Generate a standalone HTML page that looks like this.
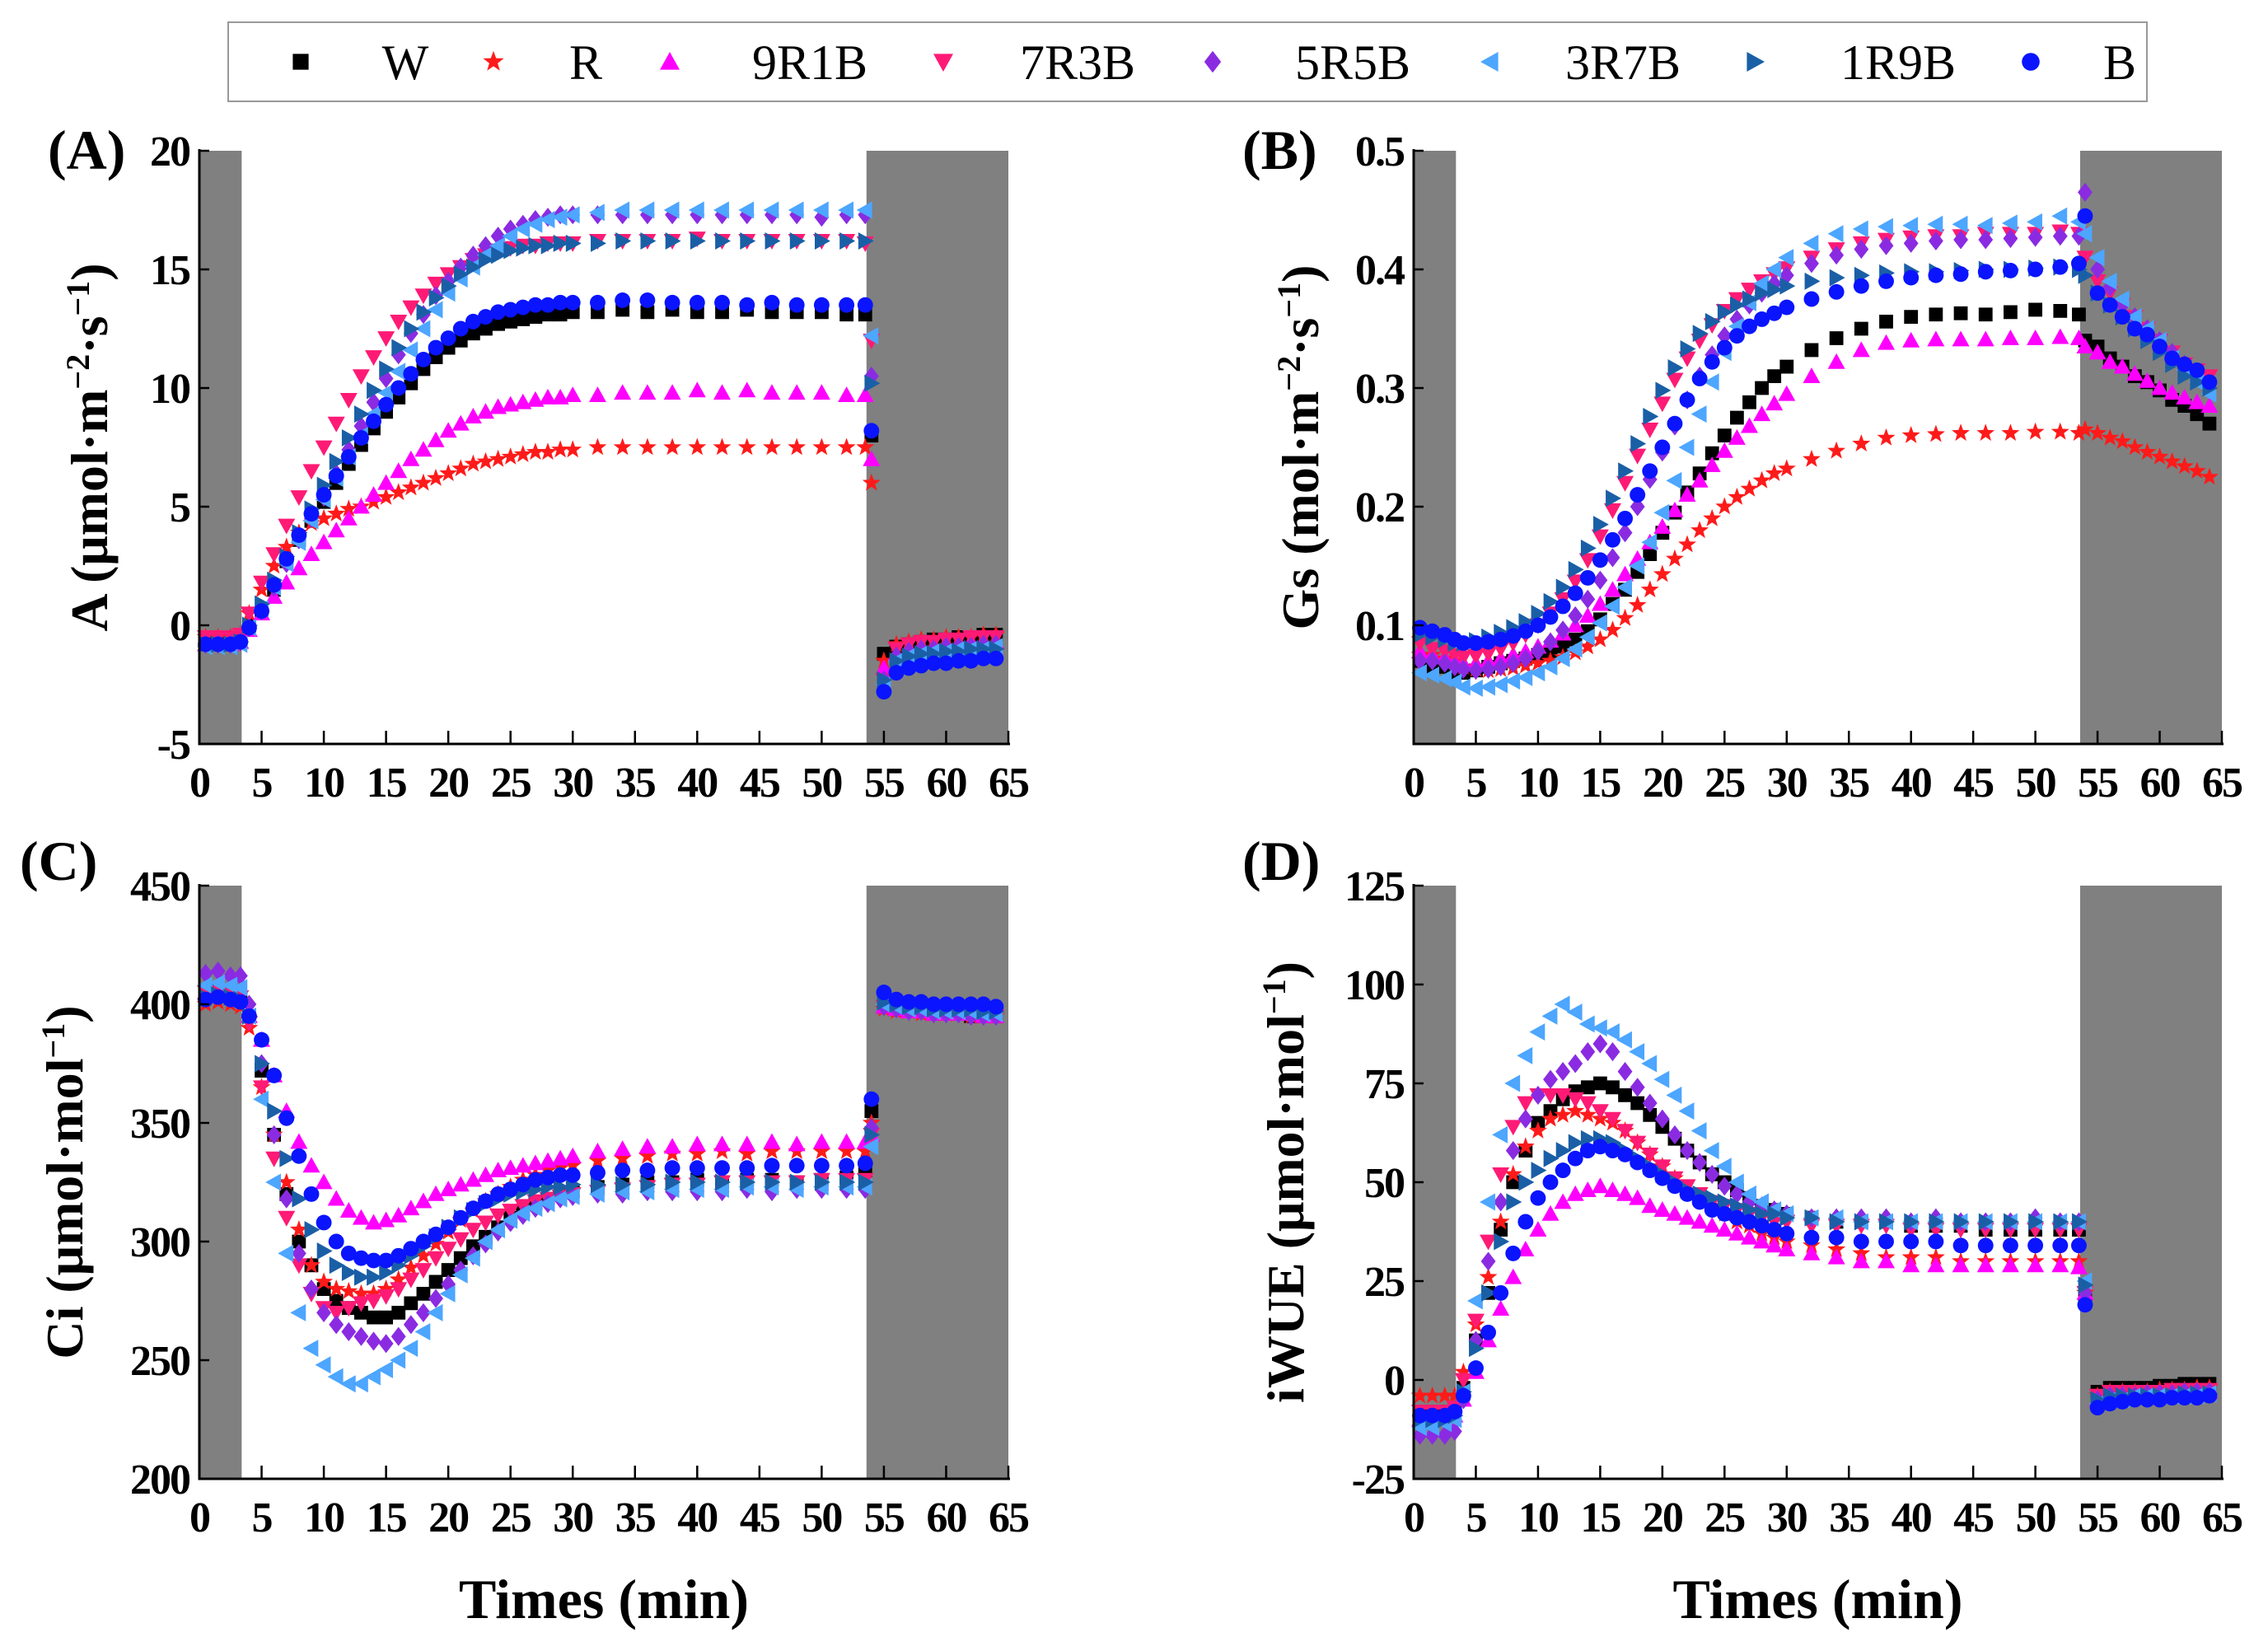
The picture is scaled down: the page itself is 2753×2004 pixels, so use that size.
<!DOCTYPE html>
<html><head><meta charset="utf-8"><style>
html,body{margin:0;padding:0;background:#fff;}
svg{display:block;font-family:"Liberation Serif",serif;}
</style></head><body>
<svg id="fig" width="2753" height="2004" viewBox="0 0 2753 2004" xmlns="http://www.w3.org/2000/svg">
<g>
<rect x="277" y="27" width="2329" height="96" fill="#fff" stroke="#999" stroke-width="2"/>
<g id="legendItems"></g>
</g>
<g id="plots"></g>
</svg>
<script>
// shared time axis (min)
const times = [0.5,1.5,2.5,3.3,4,5,6,7,8,9,10,11,12,13,14,15,16,17,18,19,20,21,22,23,24,25,26,27,28,29,30,32,34,36,38,40,42,44,46,48,50,52,53.5,54,55,56,57,58,59,60,61,62,63,64];
const seriesNames = ["W","R","9R1B","7R3B","5R5B","3R7B","1R9B","B"];
const xTicks = [0,5,10,15,20,25,30,35,40,45,50,55,60,65];

// Panel A: net photosynthetic rate
const aW    = [-0.7,-0.7,-0.7,-0.6,0,0.5,1.5,2.7,3.6,4.4,5.2,6,6.8,7.6,8.3,9,9.6,10.2,10.8,11.3,11.7,12,12.3,12.5,12.7,12.8,12.9,13,13.1,13.1,13.2,13.2,13.3,13.2,13.3,13.2,13.2,13.3,13.2,13.2,13.2,13.1,13.1,8,-1.2,-0.9,-0.8,-0.7,-0.6,-0.6,-0.5,-0.5,-0.4,-0.4];
const aR    = [-0.5,-0.5,-0.5,-0.4,0.5,1.5,2.5,3.3,3.9,4.3,4.5,4.7,4.9,5,5.2,5.4,5.6,5.8,6,6.2,6.4,6.6,6.8,6.9,7,7.1,7.2,7.3,7.3,7.4,7.4,7.5,7.5,7.5,7.5,7.5,7.5,7.5,7.5,7.5,7.5,7.5,7.5,6,-1.5,-0.8,-0.7,-0.6,-0.6,-0.5,-0.5,-0.5,-0.4,-0.4];
const a9R1B = [-0.8,-0.8,-0.8,-0.7,-0.2,0.5,1.2,1.8,2.4,3,3.5,4,4.5,5,5.5,6,6.5,7,7.4,7.8,8.2,8.5,8.8,9,9.2,9.3,9.4,9.5,9.6,9.6,9.7,9.7,9.8,9.8,9.8,9.9,9.8,9.9,9.8,9.8,9.8,9.7,9.7,7,-1.8,-1.2,-1.0,-0.9,-0.9,-0.8,-0.8,-0.7,-0.7,-0.7];
const a7R3B = [-0.5,-0.5,-0.5,-0.4,0.5,1.8,3,4.2,5.4,6.5,7.5,8.5,9.5,10.5,11.3,12.1,12.8,13.4,13.9,14.4,14.8,15.1,15.4,15.6,15.8,15.9,16,16,16.1,16.1,16.1,16.2,16.2,16.2,16.2,16.3,16.2,16.2,16.2,16.2,16.2,16.2,16.1,12,-2.3,-1,-0.8,-0.7,-0.7,-0.6,-0.6,-0.5,-0.5,-0.5];
const a5R5B = [-0.8,-0.8,-0.8,-0.7,-0.1,0.6,1.6,2.6,3.6,4.5,5.4,6.4,7.4,8.4,9.4,10.4,11.4,12.3,13.1,13.9,14.5,15.1,15.6,16,16.4,16.7,16.9,17.1,17.2,17.3,17.3,17.3,17.3,17.3,17.3,17.3,17.3,17.3,17.3,17.3,17.2,17.3,17.3,10.5,-2.3,-1.3,-1.1,-1.0,-1.0,-0.9,-0.9,-0.9,-0.8,-0.8];
const a3R7B = [-0.9,-0.9,-0.9,-0.8,-0.1,0.7,1.6,2.6,3.5,4.4,5.3,6.2,7.1,8,8.9,9.8,10.7,11.6,12.5,13.3,14,14.6,15.1,15.6,16,16.4,16.7,16.9,17.1,17.2,17.3,17.4,17.5,17.5,17.5,17.5,17.5,17.5,17.5,17.5,17.5,17.5,17.5,12.2,-2.5,-1.5,-1.3,-1.2,-1.1,-1.1,-1,-1,-1,-0.9];
const a1R9B = [-0.8,-0.8,-0.8,-0.7,0,0.9,1.9,2.9,3.9,4.9,5.9,6.9,7.9,8.9,9.9,10.8,11.7,12.5,13.2,13.8,14.3,14.8,15.1,15.4,15.6,15.8,15.9,16,16,16.1,16.1,16.1,16.2,16.2,16.2,16.2,16.2,16.2,16.2,16.2,16.2,16.2,16.2,10.2,-2.3,-1.5,-1.3,-1.2,-1.2,-1.1,-1.1,-1.0,-1.0,-1.0];
const aB    = [-0.8,-0.8,-0.8,-0.7,-0.1,0.6,1.7,2.8,3.8,4.7,5.5,6.3,7.1,7.9,8.6,9.3,10,10.6,11.2,11.7,12.1,12.5,12.8,13,13.2,13.3,13.4,13.5,13.5,13.6,13.6,13.6,13.7,13.7,13.6,13.6,13.6,13.5,13.6,13.5,13.5,13.5,13.5,8.2,-2.8,-2,-1.8,-1.7,-1.6,-1.6,-1.5,-1.5,-1.4,-1.4];

// Panel B: stomatal conductance
const gW    = [0.07,0.065,0.065,0.06,0.06,0.062,0.065,0.068,0.07,0.072,0.075,0.078,0.082,0.088,0.095,0.105,0.118,0.13,0.145,0.16,0.178,0.195,0.212,0.228,0.245,0.26,0.275,0.288,0.3,0.31,0.318,0.332,0.342,0.35,0.356,0.36,0.362,0.363,0.362,0.364,0.366,0.365,0.362,0.34,0.335,0.325,0.318,0.31,0.305,0.298,0.29,0.285,0.278,0.27];
const gR    = [0.075,0.075,0.072,0.07,0.065,0.063,0.062,0.063,0.064,0.066,0.068,0.07,0.073,0.077,0.082,0.088,0.096,0.106,0.117,0.13,0.143,0.156,0.168,0.18,0.19,0.2,0.208,0.215,0.222,0.228,0.232,0.24,0.247,0.253,0.258,0.26,0.261,0.262,0.262,0.262,0.263,0.263,0.262,0.265,0.262,0.258,0.255,0.25,0.246,0.242,0.238,0.234,0.23,0.225];
const g9R1B = [0.078,0.075,0.073,0.07,0.068,0.068,0.07,0.072,0.075,0.078,0.082,0.087,0.093,0.1,0.108,0.118,0.13,0.143,0.156,0.17,0.183,0.197,0.21,0.222,0.235,0.247,0.258,0.268,0.278,0.287,0.295,0.31,0.322,0.332,0.338,0.34,0.341,0.341,0.341,0.342,0.342,0.343,0.342,0.335,0.33,0.322,0.318,0.312,0.306,0.3,0.296,0.292,0.288,0.285];
const g7R3B = [0.085,0.08,0.078,0.075,0.073,0.074,0.076,0.08,0.085,0.092,0.1,0.11,0.122,0.137,0.155,0.175,0.197,0.22,0.243,0.265,0.287,0.307,0.325,0.34,0.353,0.365,0.375,0.383,0.39,0.396,0.401,0.41,0.417,0.422,0.425,0.427,0.428,0.428,0.43,0.43,0.43,0.432,0.43,0.41,0.39,0.38,0.37,0.36,0.35,0.34,0.33,0.32,0.315,0.31];
const g5R5B = [0.07,0.07,0.068,0.065,0.063,0.062,0.063,0.065,0.068,0.072,0.078,0.086,0.096,0.108,0.122,0.138,0.157,0.178,0.2,0.223,0.246,0.268,0.29,0.31,0.328,0.344,0.358,0.37,0.38,0.388,0.395,0.405,0.412,0.417,0.42,0.422,0.424,0.425,0.425,0.426,0.427,0.428,0.428,0.465,0.4,0.385,0.37,0.36,0.35,0.34,0.33,0.32,0.31,0.3];
const g3R7B = [0.06,0.058,0.055,0.052,0.048,0.047,0.048,0.05,0.053,0.056,0.06,0.065,0.072,0.08,0.09,0.102,0.116,0.132,0.15,0.17,0.195,0.222,0.25,0.278,0.305,0.33,0.352,0.372,0.388,0.4,0.41,0.422,0.43,0.434,0.436,0.437,0.438,0.438,0.437,0.439,0.44,0.445,0.44,0.43,0.41,0.39,0.375,0.36,0.35,0.34,0.325,0.315,0.305,0.295];
const g1R9B = [0.092,0.09,0.088,0.085,0.085,0.087,0.09,0.094,0.098,0.103,0.11,0.12,0.132,0.147,0.165,0.185,0.207,0.23,0.253,0.276,0.298,0.317,0.333,0.346,0.356,0.364,0.37,0.375,0.38,0.383,0.386,0.39,0.393,0.395,0.397,0.398,0.398,0.399,0.4,0.4,0.401,0.402,0.4,0.395,0.38,0.37,0.36,0.35,0.34,0.33,0.32,0.31,0.305,0.3];
const gB    = [0.098,0.095,0.092,0.088,0.085,0.085,0.086,0.088,0.091,0.095,0.1,0.107,0.116,0.127,0.14,0.155,0.172,0.19,0.21,0.23,0.25,0.27,0.29,0.308,0.322,0.334,0.344,0.352,0.358,0.363,0.368,0.375,0.381,0.386,0.39,0.393,0.395,0.396,0.398,0.399,0.4,0.402,0.405,0.445,0.38,0.37,0.36,0.35,0.345,0.335,0.325,0.32,0.315,0.305];

// Panel C: intercellular CO2
const cW    = [405,406,404,402,395,372,345,320,300,290,280,275,272,270,268,268,270,274,278,283,288,293,298,302,306,310,313,316,318,320,321,323,324,325,325,326,325,326,326,325,326,327,330,355,399,398,397,397,396,396,396,395,395,395];
const cR    = [400,401,400,399,390,365,345,325,305,290,283,280,279,278,278,280,284,289,294,299,304,309,313,317,320,323,326,328,330,331,332,334,335,336,337,337,338,337,338,338,338,338,338,350,398,397,397,396,396,396,396,395,395,395];
const c9R1B = [405,406,404,403,395,385,370,355,342,332,325,318,313,310,308,309,311,314,317,320,322,324,326,328,330,331,332,333,334,335,336,338,339,340,340,341,341,341,342,341,342,342,342,345,399,398,397,397,396,396,396,396,395,395];
const c7R3B = [405,405,404,403,392,365,335,310,290,278,272,270,272,274,275,277,280,284,288,293,297,301,305,308,311,313,315,317,318,319,320,321,322,323,324,324,325,325,325,325,326,326,326,345,399,398,397,397,396,396,396,395,395,395];
const c5R5B = [413,414,412,412,400,375,345,318,295,280,270,265,262,260,258,257,260,265,270,276,282,288,294,299,304,308,311,314,316,318,319,320,320,321,321,321,321,322,321,322,322,322,322,348,399,398,397,397,396,396,396,395,395,395];
const c3R7B = [408,409,408,407,395,360,325,295,270,255,248,243,240,240,243,246,250,255,262,270,278,286,293,300,305,309,312,314,316,318,319,320,321,321,322,322,322,323,323,322,323,323,323,340,400,399,398,398,397,397,397,397,396,396];
const c1R9B = [403,404,403,402,395,375,355,335,318,305,296,290,287,285,285,287,290,294,298,302,306,310,313,316,318,320,321,322,323,323,324,324,324,324,325,325,325,325,325,325,325,325,325,345,401,400,399,399,398,398,398,398,397,397];
const cB    = [402,403,402,401,395,385,370,352,336,320,308,300,295,293,292,292,294,297,300,303,306,310,314,317,320,322,324,326,327,328,328,329,330,330,331,331,331,331,332,332,332,332,333,360,405,402,401,401,400,400,400,400,400,399];

// Panel D: intrinsic water use efficiency
const dW    = [-8,-8,-9,-7,-2,10,22,38,50,58,65,68,71,73,74,75,74,72,70,67,64,61,58,55,52,50,48,46,44,43,42,41,40,40,40,39,39,39,38,38,38,38,38,20,-3,-2,-2,-2,-2,-1.5,-1.5,-1,-1,-1];
const dR    = [-4,-4,-4,-4,2,14,26,40,52,59,63,66,67,68,67,66,65,63,60,57,54,51,48,46,44,42,40,39,37,36,35,34,33,32,31,31,31,30,30,30,30,30,30,22,-4,-3,-3,-3,-3,-2.5,-2.5,-2.5,-2,-2];
const d9R1B = [-10,-10,-10,-9,-5,2,10,18,26,33,38,42,45,47,48,49,48,47,46,44,43,42,41,40,39,38,37,36,35,34,33,32,31,30,30,29,29,29,29,29,29,29,28.5,22,-5,-4,-4,-4,-4,-3.5,-3.5,-3.5,-3,-3];
const d7R3B = [-8,-8,-8,-7,0,15,35,52,64,70,72,72,72,71,70,68,66,63,60,57,54,51,49,47,45,44,43,42,41,40,40,39,39,39,39,38,38,38,38,38,38,38,38,22,-4,-3,-3,-3,-3,-3,-2.5,-2.5,-2.5,-2.5];
const d5R5B = [-14,-14,-14,-13,-5,10,30,45,58,66,72,76,78,80,83,85,83,78,74,70,66,62,58,55,52,49,47,45,44,43,42,41,41,41,41,40,41,40,40,40,41,40,40,22,-5,-4,-4,-4,-3.5,-3.5,-3.5,-3,-3,-3];
const d3R7B = [-12,-12,-11,-10,-3,20,45,62,75,82,88,92,95,93,90,89,88,86,83,80,76,72,68,63,58,54,50,47,45,43,42,41,41,40,40,40,40,40,40,40,40,40,40,25,-6,-5,-5,-4,-4,-4,-4,-4,-4,-3.5];
const d1R9B = [-10,-10,-10,-9,-3,8,22,35,45,50,53,56,58,60,61,61,60,58,56,54,52,50,48,47,46,45,44,43,42,42,41,41,40,40,40,40,40,40,40,40,40,40,40,24,-5,-4,-4,-4,-4,-4,-4,-3.5,-3.5,-3.5];
const dB    = [-9,-9,-9,-8,-4,3,12,22,32,40,46,50,53,56,58,59,58,57,55,53,51,49,47,45,43,42,41,40,39,38,37,36,36,35,35,35,35,34,34,34,34,34,34,19,-7,-6,-5.5,-5,-5,-5,-4.5,-4.5,-4.5,-4];

const panels = [
  {id:"a", label:"(A)", L:242, R:1224, T:183, B:903, ymin:-5, ymax:20, yTicks:[-5,0,5,10,15,20], yFmt:v=>String(v),
   title:["A (μmol·m","−2","·s","−1",")"], tx:130, lx:58, ly:205, data:[aW,aR,a9R1B,a7R3B,a5R5B,a3R7B,a1R9B,aB], xlab:false},
  {id:"gs", label:"(B)", L:1716, R:2697, T:183, B:903, ymin:0, ymax:0.5, yTicks:[0.1,0.2,0.3,0.4,0.5], yFmt:v=>v.toFixed(1),
   title:["Gs (mol·m","−2","·s","−1",")"], tx:1600, lx:1508, ly:205, data:[gW,gR,g9R1B,g7R3B,g5R5B,g3R7B,g1R9B,gB], xlab:false},
  {id:"ci", label:"(C)", L:242, R:1224, T:1075, B:1795, ymin:200, ymax:450, yTicks:[200,250,300,350,400,450], yFmt:v=>String(v),
   title:["Ci (μmol·mol","−1",")"], tx:100, lx:24, ly:1068, data:[cW,cR,c9R1B,c7R3B,c5R5B,c3R7B,c1R9B,cB], xlab:true},
  {id:"iwue", label:"(D)", L:1716, R:2697, T:1075, B:1795, ymin:-25, ymax:125, yTicks:[-25,0,25,50,75,100,125], yFmt:v=>String(v),
   title:["iWUE (μmol·mol","−1",")"], tx:1582, lx:1508, ly:1068, data:[dW,dR,d9R1B,d7R3B,d5R5B,d3R7B,d1R9B,dB], xlab:true}
];
const colors = ["#000000","#ff1a1a","#ff00ff","#ff1a75","#8a2be2","#4da6ff","#1a5fa6","#0a14ff"];
const shapes = ["square","star","up","down","diamond","left","right","circle"];
const NS = "http://www.w3.org/2000/svg";
function mk(tag, attrs, parent){const e=document.createElementNS(NS,tag);for(const k in attrs)e.setAttribute(k,attrs[k]);parent.appendChild(e);return e;}
function marker(shape, x, y, s, color, parent){
  let d;
  if(shape==="square") d=`M${x-s*0.8},${y-s*0.8}h${s*1.6}v${s*1.6}h${-s*1.6}z`;
  else if(shape==="up") d=`M${x},${y-s}L${x+s},${y+s*0.8}L${x-s},${y+s*0.8}z`;
  else if(shape==="down") d=`M${x},${y+s}L${x+s},${y-s*0.8}L${x-s},${y-s*0.8}z`;
  else if(shape==="left") d=`M${x-s},${y}L${x+s*0.8},${y-s}L${x+s*0.8},${y+s}z`;
  else if(shape==="right") d=`M${x+s},${y}L${x-s*0.8},${y-s}L${x-s*0.8},${y+s}z`;
  else if(shape==="diamond") d=`M${x},${y-s*1.1}L${x+s*0.85},${y}L${x},${y+s*1.1}L${x-s*0.85},${y}z`;
  else if(shape==="star"){let p=[];for(let i=0;i<10;i++){const r=i%2?s*0.45:s*1.1;const a=-Math.PI/2+i*Math.PI/5;p.push((x+r*Math.cos(a)).toFixed(1)+","+(y+r*Math.sin(a)).toFixed(1));}d="M"+p.join("L")+"z";}
  if(shape==="circle") return mk("circle",{cx:x,cy:y,r:s*0.9,fill:color},parent);
  return mk("path",{d:d,fill:color},parent);
}
const plots=document.getElementById("plots");
panels.forEach(p=>{
  const g=mk("g",{},plots);
  
  
  const xs=t=>p.L+(t/65)*(p.R-p.L);
  const ys=v=>p.B-(v-p.ymin)/(p.ymax-p.ymin)*(p.B-p.T);
  const b1=mk("rect",{x:p.L,y:p.T,width:xs(3.4)-p.L,height:p.B-p.T,fill:"#808080"},g);
  
  
  const b2=mk("rect",{x:xs(53.6),y:p.T,width:p.R-xs(53.6),height:p.B-p.T,fill:"#808080"},g);
  
  
  p.data.forEach((arr,si)=>{
    const sg=mk("g",{},g);
    
    
    arr.forEach((v,i)=>{
      const m=marker(shapes[si],xs(times[i]),ys(v),10.5,colors[si],sg);
      
      
    });
  });
  const ax=mk("path",{d:`M${p.L},${p.T-2}V${p.B}H${p.R+2}`,fill:"none",stroke:"#000","stroke-width":3},g);
  
  
  xTicks.forEach(t=>{
    mk("line",{x1:xs(t),x2:xs(t),y1:p.B,y2:p.B-16,stroke:"#000","stroke-width":2.5},g);
    const tl=mk("text",{x:xs(t),y:p.B+64,"text-anchor":"middle","font-size":52,"font-weight":"bold","letter-spacing":"-2"},g);
    tl.textContent=t;
    
    
  });
  p.yTicks.forEach(v=>{
    mk("line",{x1:p.L,x2:p.L+12,y1:ys(v),y2:ys(v),stroke:"#000","stroke-width":2.5},g);
    const tl=mk("text",{x:p.L-12,y:ys(v)+18,"text-anchor":"end","font-size":52,"font-weight":"bold","letter-spacing":"-2"},g);
    tl.textContent=p.yFmt(v);
    
    
  });
  const cy=(p.T+p.B)/2;
  const yt=mk("text",{x:0,y:0,transform:`translate(${p.tx},${cy}) rotate(-90)`,"text-anchor":"middle","font-size":64,"font-weight":"bold"},g);
  
  
  p.title.forEach((s,i)=>{
    const ts=mk("tspan",{},yt);
    if(i%2===1){ts.setAttribute("baseline-shift","super");ts.setAttribute("font-size",40);}
    ts.textContent=s;
  });
  const pl=mk("text",{x:p.lx,y:p.ly,"font-size":68,"font-weight":"bold"},g);
  pl.textContent=p.label;
  
  
  if(p.xlab){
    const xl=mk("text",{x:(p.L+p.R)/2,y:1964,"text-anchor":"middle","font-size":68,"font-weight":"bold"},g);
    xl.textContent="Times (min)";
    
    
  }
});
const lg=document.getElementById("legendItems");
const legMarkX=[365,599,813,1145,1472,1809,2130,2465];
const legTextX=[492,711,983,1308,1642,1970,2304,2573];
seriesNames.forEach((n,i)=>{
  const eg=mk("g",{},lg);
  
  
  marker(shapes[i],legMarkX[i],75,12,colors[i],eg);
  const t=mk("text",{x:legTextX[i],y:96,"text-anchor":"middle","font-size":60},eg);
  t.textContent=n;
});
</script>
</body></html>
